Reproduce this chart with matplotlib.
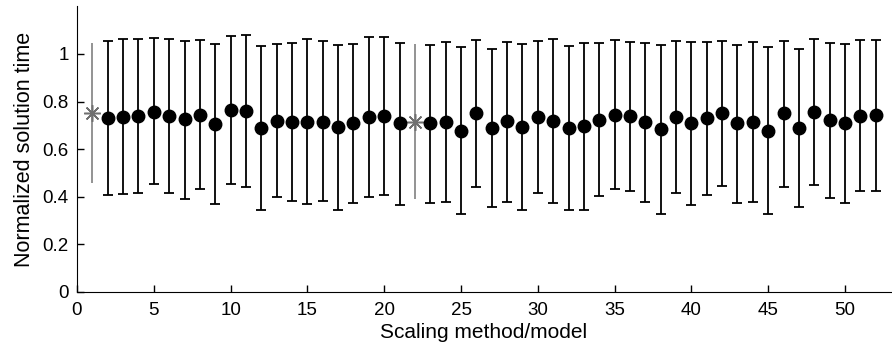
import matplotlib
matplotlib.use("Agg")
import matplotlib.pyplot as plt
import numpy as np

plt.rcParams['font.family'] = ['Liberation Sans', 'DejaVu Sans']

methods = list(range(1, 53))
means = [0.752, 0.730, 0.736, 0.738, 0.758, 0.738, 0.727, 0.745, 0.706, 0.764,
         0.762, 0.690, 0.719, 0.715, 0.715, 0.716, 0.692, 0.710, 0.734, 0.738,
         0.708, 0.716, 0.708, 0.715, 0.677, 0.750, 0.690, 0.717, 0.692, 0.736,
         0.720, 0.690, 0.697, 0.724, 0.745, 0.738, 0.715, 0.683, 0.736, 0.708,
         0.729, 0.750, 0.708, 0.715, 0.677, 0.750, 0.690, 0.755, 0.723, 0.708,
         0.741, 0.743]
upper = [1.046, 1.053, 1.063, 1.063, 1.067, 1.064, 1.056, 1.059, 1.043, 1.076,
         1.081, 1.035, 1.041, 1.046, 1.063, 1.053, 1.039, 1.042, 1.071, 1.071,
         1.046, 1.041, 1.039, 1.050, 1.028, 1.057, 1.022, 1.052, 1.042, 1.053,
         1.063, 1.034, 1.048, 1.048, 1.059, 1.050, 1.046, 1.036, 1.053, 1.050,
         1.049, 1.053, 1.039, 1.049, 1.028, 1.056, 1.022, 1.064, 1.046, 1.042,
         1.060, 1.060]
lower = [0.456, 0.406, 0.410, 0.417, 0.453, 0.415, 0.392, 0.434, 0.371, 0.452,
         0.442, 0.345, 0.400, 0.382, 0.371, 0.382, 0.343, 0.376, 0.400, 0.408,
         0.366, 0.392, 0.373, 0.380, 0.327, 0.441, 0.359, 0.380, 0.345, 0.418,
         0.376, 0.345, 0.345, 0.404, 0.434, 0.425, 0.380, 0.329, 0.415, 0.366,
         0.408, 0.446, 0.373, 0.380, 0.327, 0.441, 0.359, 0.448, 0.397, 0.376,
         0.424, 0.425]
reference_methods = [1, 22]

x = np.array(methods)
m = np.array(means)
up = np.array(upper)
lo = np.array(lower)
is_ref = np.isin(x, reference_methods)

fig = plt.figure(figsize=(8.92, 3.55), dpi=100)
ax = fig.add_axes([0.0863, 0.1775, 0.9127, 0.8045])

nr = ~is_ref
ax.errorbar(x[nr], m[nr], yerr=[m[nr] - lo[nr], up[nr] - m[nr]], fmt='o',
            color='black', ecolor='black', elinewidth=1.3, capsize=3.5,
            capthick=1.3, markersize=9, zorder=3)
ax.errorbar(x[is_ref], m[is_ref], yerr=[m[is_ref] - lo[is_ref], up[is_ref] - m[is_ref]],
            fmt='none', ecolor='#808080', elinewidth=1.2, capsize=0, zorder=2)
ax.plot(x[is_ref], m[is_ref], linestyle='none', marker=(8, 2, 0), markersize=12,
        color='#707070', markeredgewidth=1.1, zorder=3)

ax.set_xlim(0, 53)
ax.set_ylim(0, 1.2)
ax.set_xticks(np.arange(0, 51, 5))
ax.set_yticks([0, 0.2, 0.4, 0.6, 0.8, 1.0])
ax.set_yticklabels(['0', '0.2', '0.4', '0.6', '0.8', '1'])
ax.tick_params(direction='in', length=5, width=1, labelsize=13.5)
ax.tick_params(axis='x', pad=7)
ax.tick_params(axis='y', pad=6)
ax.spines['top'].set_visible(False)
ax.spines['right'].set_visible(False)
ax.set_xlabel('Scaling method/model', fontsize=15, labelpad=3)
ax.set_ylabel('Normalized solution time', fontsize=15.5, labelpad=5)

fig.savefig('out.png', dpi=100)
